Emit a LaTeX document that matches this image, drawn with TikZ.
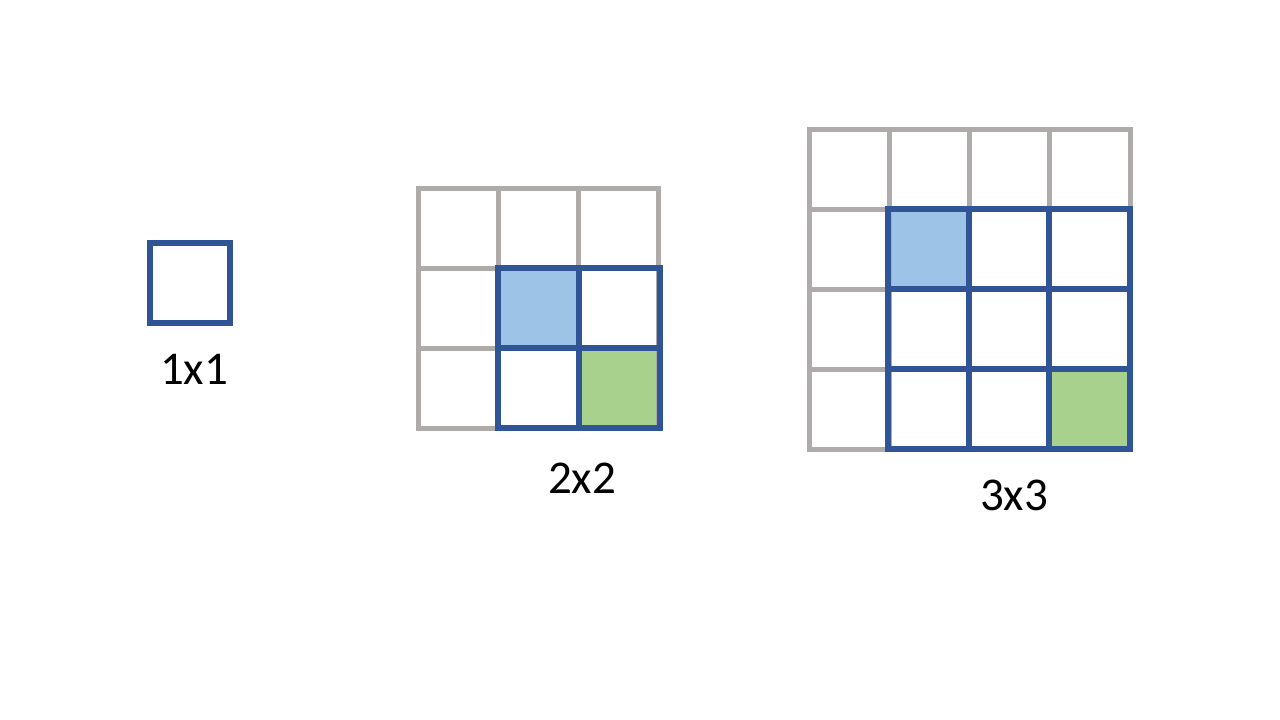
\documentclass[tikz,border=0pt]{standalone}
\usepackage{fontspec}
\setmainfont{Carlito}
\usepackage{tikz}

\definecolor{gridgray}{HTML}{AFABAB}
\definecolor{kernblue}{HTML}{2F5597}
\definecolor{centerblue}{HTML}{9DC3E6}
\definecolor{cornergreen}{HTML}{A9D18E}

\begin{document}
\begin{tikzpicture}[
				x=1pt,
				y=-1pt,
				line cap=rect,
				line join=miter,
				graycell/.style={draw=gridgray, line width=5pt},
				bluecell/.style={draw=kernblue, line width=6pt},
				every node/.style={font=\fontsize{47}{56}\selectfont, inner sep=0pt}
				]
				\useasboundingbox (0,0) rectangle (1280,720);
				
				% Fills
				\fill[centerblue] (498,268) rectangle (578,348);
				\fill[cornergreen] (578,348) rectangle (660,428);
				\fill[centerblue] (888,209) rectangle (968,289);
				\fill[cornergreen] (1049,369) rectangle (1130,449);
				
				% Gray grids
				\foreach \i in {0,1,2} {
					\foreach \j in {0,1,2} {
						\draw[graycell] (418+80*\i,188+80*\j) rectangle ++(80,80);
					}
				}
				\foreach \i in {0,1,2,3} {
					\foreach \j in {0,1,2,3} {
						\draw[graycell] (809+80.25*\i,129+80*\j) rectangle ++(80.25,80);
					}
				}
				
				% Blue kernels
				\draw[bluecell] (150,243) rectangle (230,323);
				\foreach \i in {0,1} {
					\foreach \j in {0,1} {
						\draw[bluecell] (498+81*\i,268+80*\j) rectangle ++(81,80);
					}
				}
				\foreach \i in {0,1,2} {
					\foreach \j in {0,1,2} {
						\draw[bluecell] (888+80.67*\i,209+80*\j) rectangle ++(80.67,80);
					}
				}
				
				% Labels
				\node[anchor=base] (one) at (194,384) {1x1};
				\node[anchor=base] (two) at (582,493) {2x2};
				\node[anchor=base] (three) at (1014,510) {3x3};
			\end{tikzpicture}
\end{document}
